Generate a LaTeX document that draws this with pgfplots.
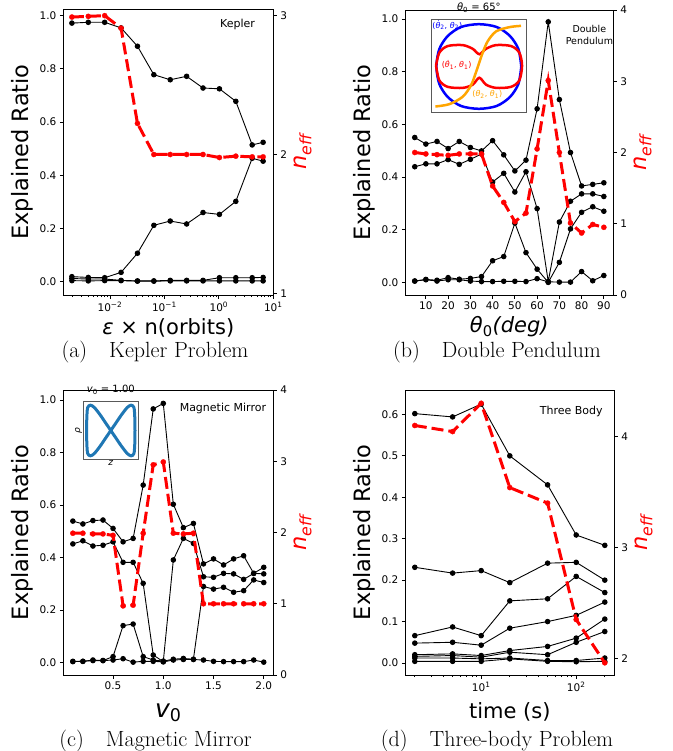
\documentclass[border=0pt]{standalone}
\usepackage{fontspec}
\usepackage{pgfplots}
\pgfplotsset{compat=1.18}
\newfontfamily\plotfont{DejaVu Sans}
\definecolor{mplblue}{RGB}{31,119,180}
\definecolor{inorange}{RGB}{255,165,0}

\pgfplotsset{
  base/.style={scale only axis, anchor=south west,
    axis line style={line width=0.8pt}, tick style={black, line width=0.8pt},
    major tick length=3.5pt, minor tick length=2pt, tick align=outside,
    tick label style={font=\plotfont\fontsize{10.5}{12}\selectfont},
    /pgf/number format/assume math mode=true},
  lft/.style={base, xtick pos=bottom, ytick pos=left,
    ylabel={Explained Ratio},
    ylabel style={font=\plotfont\fontsize{22.5}{26}\selectfont},
    xlabel style={font=\plotfont\fontsize{21}{25}\selectfont},
    yticklabel style={/pgf/number format/.cd, fixed, fixed zerofill, precision=1}},
  rgt/.style={base, axis y line*=right, axis x line=none,
    ylabel near ticks, yticklabel pos=right,
    ylabel={\itshape n\textsubscript{eff}},
    ylabel style={red, font=\plotfont\fontsize{22.5}{26}\selectfont}},
  blk/.style={black, line width=0.9pt, mark=*, mark size=2.3pt},
  neff/.style={red, line width=3pt, dash pattern=on 12pt off 5pt,
    mark=*, mark size=2.6pt, mark options={solid, line width=0.3pt}},
  inset/.style={scale only axis, anchor=south west, xmin=0, xmax=1, ymin=0, ymax=1,
    xtick=\empty, ytick=\empty, axis background/.style={fill=white},
    axis line style={black!65, line width=1pt},
    title style={font=\plotfont\fontsize{10}{11}\selectfont, inner sep=1pt},
    label style={font=\plotfont\fontsize{9}{10}\selectfont, inner sep=1pt}},
}
\newcommand{\annot}{\plotfont\fontsize{11}{13}\selectfont}
\newcommand{\capfont}{\fontsize{22}{26}\selectfont}

\begin{document}
\begin{tikzpicture}
\useasboundingbox (0,0) rectangle (672pt,-751pt);

% ---------------- (a) Kepler
\begin{axis}[lft, at={(63.3pt,-295pt)}, width=210pt, height=286pt,
  xmode=log, xmin=0.00139, xmax=10, ymin=-0.05, ymax=1.025,
  xtick={0.01,0.1,1,10},
  xticklabels={10\textsuperscript{−2},10\textsuperscript{−1},10\textsuperscript{0},10\textsuperscript{1}},
  minor xtick={0.002,0.003,0.004,0.005,0.006,0.007,0.008,0.009,
    0.02,0.03,0.04,0.05,0.06,0.07,0.08,0.09,0.2,0.3,0.4,0.5,0.6,0.7,0.8,0.9,2,3,4,5,6,7,8,9},
  ytick={0,0.2,0.4,0.6,0.8,1},
  xlabel={{\itshape ε} × n(orbits)}]
\addplot[blk] coordinates {(0.002,0.972)(0.004,0.975)(0.008,0.975)(0.016,0.954)(0.032,0.885)(0.064,0.778)(0.128,0.759)(0.256,0.772)(0.512,0.728)(1.024,0.725)(2.048,0.678)(4.096,0.514)(6.5,0.524)};
\addplot[blk] coordinates {(0.002,0.019)(0.004,0.016)(0.008,0.015)(0.016,0.035)(0.032,0.107)(0.064,0.212)(0.128,0.228)(0.256,0.217)(0.512,0.26)(1.024,0.253)(2.048,0.302)(4.096,0.464)(6.5,0.453)};
\addplot[blk] coordinates {(0.002,0.012)(0.004,0.010)(0.008,0.010)(0.016,0.005)(0.032,0.003)(0.064,0.003)(0.128,0.005)(0.256,0.005)(0.512,0.005)(1.024,0.015)(2.048,0.015)(4.096,0.015)(6.5,0.016)};
\addplot[blk] coordinates {(0.002,0.004)(0.004,0.003)(0.008,0.004)(0.016,0.004)(0.032,0.002)(0.064,0.002)(0.128,0.003)(0.256,0.003)(0.512,0.003)(1.024,0.003)(2.048,0.003)(4.096,0.003)(6.5,0.003)};
\node[font=\annot] at (rel axis cs:0.83,0.947) {Kepler};
\end{axis}
\begin{axis}[rgt, at={(63.3pt,-295pt)}, width=210pt, height=286pt,
  xmode=log, xmin=0.00139, xmax=10, ymin=0.988, ymax=3.048, ytick={1,2,3}]
\addplot[neff] coordinates {(0.002,2.99)(0.004,2.995)(0.008,3.0)(0.016,2.91)(0.032,2.224)(0.064,2.0)(0.128,2.0)(0.256,2.0)(0.512,2.0)(1.024,1.978)(2.048,1.988)(4.096,1.983)(6.5,1.983)};
\end{axis}

% ---------------- (b) Double pendulum
\begin{axis}[lft, at={(405.3pt,-295pt)}, width=208pt, height=285pt,
  xmin=0.75, xmax=94.25, ymin=-0.048, ymax=1.034,
  xtick={10,20,30,40,50,60,70,80,90}, ytick={0,0.2,0.4,0.6,0.8,1},
  xlabel={{\itshape θ}\textsubscript{0}{\itshape (deg)}}]
\addplot[blk] coordinates {(5,0.55)(10,0.525)(15,0.535)(20,0.508)(25,0.535)(30,0.512)(35,0.499)(40,0.538)(45,0.484)(50,0.423)(55,0.464)(60,0.659)(65,0.989)(70,0.694)(75,0.493)(80,0.366)(85,0.372)(90,0.378)};
\addplot[blk] coordinates {(5,0.439)(10,0.45)(15,0.45)(20,0.466)(25,0.448)(30,0.467)(35,0.487)(40,0.381)(45,0.414)(50,0.343)(55,0.42)(60,0.28)(65,0.003)(70,0.229)(75,0.308)(80,0.336)(85,0.336)(90,0.326)};
\addplot[blk] coordinates {(5,0.005)(10,0.011)(15,0.008)(20,0.018)(25,0.012)(30,0.015)(35,0.022)(40,0.082)(45,0.098)(50,0.225)(55,0.113)(60,0.05)(65,0.0)(70,0.076)(75,0.203)(80,0.266)(85,0.287)(90,0.27)};
\addplot[blk] coordinates {(5,0.005)(10,0.01)(15,0.005)(20,0.01)(25,0.01)(30,0.005)(35,0.003)(40,0.003)(45,0.004)(50,0.004)(55,0.003)(60,0.014)(65,0.002)(70,0.001)(75,0.001)(80,0.041)(85,0.006)(90,0.026)};
\node[font=\plotfont\fontsize{9.5}{11.5}\selectfont, align=center] at (rel axis cs:0.885,0.912) {Double\\Pendulum};
\end{axis}
\begin{axis}[rgt, at={(405.3pt,-295pt)}, width=208pt, height=285pt,
  xmin=0.75, xmax=94.25, ymin=0, ymax=4, ytick={0,1,2,3,4}]
\addplot[neff] coordinates {(5,2.0)(10,1.98)(15,1.97)(20,1.96)(25,1.98)(30,1.98)(35,1.98)(40,1.53)(45,1.3)(50,1.03)(55,1.15)(60,2.05)(65,3.01)(70,2.0)(75,1.01)(80,0.87)(85,0.99)(90,0.95)};
\end{axis}
% inset (b)
\begin{axis}[inset, at={(431.7pt,-113pt)}, width=94.3pt, height=93pt,
  title={{\itshape θ}\textsubscript{0} = 65°}]
\addplot[blue, line width=2.5pt, smooth] coordinates {(0.95,0.5)(0.919,0.688)(0.829,0.829)(0.688,0.925)(0.5,0.955)(0.312,0.925)(0.171,0.829)(0.081,0.688)(0.05,0.5)(0.081,0.312)(0.171,0.171)(0.312,0.075)(0.5,0.045)(0.688,0.075)(0.829,0.171)(0.919,0.312)(0.95,0.5)};
\addplot[red, line width=2.5pt, smooth] coordinates {(0.046,0.509)(0.081,0.649)(0.17,0.72)(0.329,0.73)(0.435,0.69)(0.505,0.632)(0.576,0.69)(0.682,0.73)(0.841,0.72)(0.929,0.649)(0.958,0.509)(0.929,0.351)(0.841,0.281)(0.682,0.27)(0.576,0.305)(0.505,0.379)(0.435,0.305)(0.329,0.27)(0.17,0.281)(0.081,0.351)(0.046,0.509)};
\addplot[inorange, line width=2.5pt, smooth] coordinates {(0.039,0.07)(0.187,0.095)(0.329,0.175)(0.417,0.298)(0.47,0.439)(0.505,0.544)(0.541,0.649)(0.594,0.772)(0.682,0.877)(0.823,0.923)(0.947,0.937)};
\node[blue, font=\plotfont\fontsize{8}{9}\selectfont, anchor=west, inner sep=0.5pt] at (axis cs:0.0,0.945) {({\itshape θ̇}\textsubscript{2}, {\itshape θ}\textsubscript{2})};
\node[red, font=\plotfont\fontsize{8}{9}\selectfont, inner sep=0.5pt] at (axis cs:0.265,0.52) {({\itshape θ̇}\textsubscript{1}, {\itshape θ}\textsubscript{1})};
\node[inorange, font=\plotfont\fontsize{8}{9}\selectfont, inner sep=0.5pt] at (axis cs:0.59,0.2) {({\itshape θ}\textsubscript{2}, {\itshape θ}\textsubscript{1})};
\end{axis}

% ---------------- (c) Magnetic mirror
\begin{axis}[lft, at={(63.3pt,-675pt)}, width=210pt, height=285pt,
  xmin=0.005, xmax=2.095, ymin=-0.047, ymax=1.038,
  xtick={0.5,1.0,1.5,2.0}, ytick={0,0.2,0.4,0.6,0.8,1},
  xticklabel style={/pgf/number format/.cd, fixed, fixed zerofill, precision=1},
  xlabel={{\itshape v}\textsubscript{0}}, xlabel style={yshift=-7pt, font=\plotfont\fontsize{25}{28}\selectfont}]
\addplot[blk] coordinates {(0.1,0.539)(0.2,0.528)(0.3,0.541)(0.4,0.543)(0.5,0.511)(0.6,0.46)(0.7,0.473)(0.8,0.676)(0.9,0.966)(1.0,0.987)(1.1,0.603)(1.2,0.514)(1.3,0.53)(1.4,0.376)(1.5,0.395)(1.6,0.372)(1.7,0.395)(1.8,0.407)(1.9,0.34)(2.0,0.363)};
\addplot[blk] coordinates {(0.1,0.452)(0.2,0.464)(0.3,0.444)(0.4,0.447)(0.5,0.46)(0.6,0.382)(0.7,0.382)(0.8,0.302)(0.9,0.029)(1.0,0.004)(1.1,0.391)(1.2,0.473)(1.3,0.454)(1.4,0.327)(1.5,0.325)(1.6,0.34)(1.7,0.338)(1.8,0.317)(1.9,0.34)(2.0,0.338)};
\addplot[blk] coordinates {(0.1,0.004)(0.2,0.005)(0.3,0.008)(0.4,0.008)(0.5,0.023)(0.6,0.141)(0.7,0.147)(0.8,0.023)(0.9,0.01)(1.0,0.006)(1.1,0.013)(1.2,0.016)(1.3,0.013)(1.4,0.29)(1.5,0.28)(1.6,0.287)(1.7,0.268)(1.8,0.274)(1.9,0.315)(2.0,0.305)};
\addplot[blk] coordinates {(0.1,0.005)(0.2,0.005)(0.3,0.01)(0.4,0.008)(0.5,0.01)(0.6,0.015)(0.7,0.002)(0.8,0.005)(0.9,0.005)(1.0,0.003)(1.1,0.01)(1.2,0.012)(1.3,0.012)(1.4,0.01)(1.5,0.005)(1.6,0.004)(1.7,0.004)(1.8,0.004)(1.9,0.01)(2.0,0.002)};
\node[font=\annot] at (rel axis cs:0.76,0.936) {Magnetic Mirror};
\end{axis}
\begin{axis}[rgt, at={(63.3pt,-675pt)}, width=210pt, height=285pt,
  xmin=0.005, xmax=2.095, ymin=0, ymax=4, ytick={0,1,2,3,4}]
\addplot[neff] coordinates {(0.1,1.99)(0.2,1.99)(0.3,1.98)(0.4,1.98)(0.5,1.96)(0.6,0.97)(0.7,0.98)(0.8,1.99)(0.9,2.95)(1.0,2.99)(1.1,1.99)(1.2,1.98)(1.3,1.99)(1.4,1.0)(1.5,1.0)(1.6,1.0)(1.7,1.0)(1.8,1.0)(1.9,1.0)(2.0,1.0)};
\end{axis}
% inset (c)
\begin{axis}[inset, at={(83.3pt,-459.3pt)}, width=55pt, height=57.6pt,
  title={{\itshape v}\textsubscript{0} = 1.00}, xlabel={\itshape z}, ylabel={\itshape ρ}]
\addplot[mplblue, line width=3pt, smooth] coordinates {(0.5,0.5)(0.6,0.64)(0.7,0.78)(0.8,0.9)(0.87,0.94)(0.92,0.9)(0.935,0.75)(0.94,0.5)(0.935,0.25)(0.92,0.1)(0.87,0.06)(0.8,0.1)(0.7,0.22)(0.6,0.36)(0.5,0.5)(0.4,0.64)(0.3,0.78)(0.2,0.9)(0.13,0.94)(0.08,0.9)(0.065,0.75)(0.06,0.5)(0.065,0.25)(0.08,0.1)(0.13,0.06)(0.2,0.1)(0.3,0.22)(0.4,0.36)(0.5,0.5)};
\end{axis}

% ---------------- (d) Three body
\begin{axis}[lft, at={(405.3pt,-675pt)}, width=209pt, height=285pt,
  xmode=log, xmin=1.589, xmax=251.8, ymin=-0.029, ymax=0.659,
  xtick={10,100}, xticklabels={10\textsuperscript{1},10\textsuperscript{2}},
  minor xtick={2,3,4,5,6,7,8,9,20,30,40,50,60,70,80,90,200},
  ytick={0,0.1,0.2,0.3,0.4,0.5,0.6},
  xlabel={time (s)}, xlabel style={yshift=-4pt}]
\addplot[blk] coordinates {(2,0.602)(5,0.594)(10,0.625)(20,0.5)(50,0.43)(100,0.309)(200,0.284)};
\addplot[blk] coordinates {(2,0.231)(5,0.217)(10,0.223)(20,0.194)(50,0.241)(100,0.243)(200,0.2)};
\addplot[blk] coordinates {(2,0.066)(5,0.087)(10,0.066)(20,0.15)(50,0.155)(100,0.209)(200,0.17)};
\addplot[blk] coordinates {(2,0.048)(5,0.05)(10,0.043)(20,0.084)(50,0.1)(100,0.115)(200,0.147)};
\addplot[blk] coordinates {(2,0.02)(5,0.022)(10,0.018)(20,0.03)(50,0.04)(100,0.06)(200,0.106)};
\addplot[blk] coordinates {(2,0.016)(5,0.018)(10,0.014)(20,0.026)(50,0.02)(100,0.05)(200,0.076)};
\addplot[blk] coordinates {(2,0.012)(5,0.012)(10,0.01)(20,0.012)(50,0.006)(100,0.006)(200,0.012)};
\addplot[blk] coordinates {(2,0.004)(5,0.004)(10,0.004)(20,0.01)(50,0.004)(100,0.003)(200,0.004)};
\node[font=\annot] at (rel axis cs:0.794,0.924) {Three Body};
\end{axis}
\begin{axis}[rgt, at={(405.3pt,-675pt)}, width=209pt, height=285pt,
  xmode=log, xmin=1.589, xmax=251.8, ymin=1.85, ymax=4.42, ytick={2,3,4}]
\addplot[neff] coordinates {(2,4.10)(5,4.045)(10,4.30)(20,3.54)(50,3.40)(100,2.35)(200,1.96)};
\end{axis}

% ---------------- captions
\node[font=\capfont] at (155pt,-352pt) {(a)\quad Kepler Problem};
\node[font=\capfont] at (497pt,-352pt) {(b)\quad Double Pendulum};
\node[font=\capfont] at (155.5pt,-741pt) {(c)\quad Magnetic Mirror};
\node[font=\capfont] at (497pt,-741pt) {(d)\quad Three-body Problem};
\end{tikzpicture}
\end{document}
